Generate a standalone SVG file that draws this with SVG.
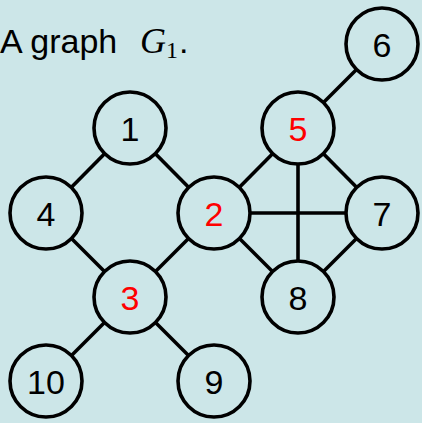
<svg xmlns="http://www.w3.org/2000/svg" width="422" height="423" viewBox="0 0 422 423">
<style>
.bg{fill:#cce6e8}
.n circle{fill:#cce6e8;stroke:#000;stroke-width:3.6}
.n text{font-family:"Liberation Sans","DejaVu Sans",sans-serif;font-size:34px;text-anchor:middle;fill:#000}
.n text.r{fill:#ff0000}
.e line{stroke:#000;stroke-width:3.6}
.t{font-family:"Liberation Sans","DejaVu Sans",sans-serif;font-size:34px;fill:#000}
.m{font-family:"Liberation Serif","DejaVu Serif",serif;font-style:italic;font-size:36px}
.s{font-family:"Liberation Serif","DejaVu Serif",serif;font-size:24px}
</style>
<rect class="bg" x="0" y="0" width="422" height="423"/>
<text class="t" x="0" y="53">A graph</text>
<text x="140" y="53" class="t"><tspan class="m">G</tspan></text>
<text class="s" x="166" y="58">1</text>
<text class="t" x="179" y="53">.</text>
<g class="e" id="edges">
<line x1="130" y1="128" x2="46" y2="213"/>
<line x1="130" y1="128" x2="214" y2="213"/>
<line x1="46" y1="213" x2="130" y2="297"/>
<line x1="214" y1="213" x2="130" y2="297"/>
<line x1="130" y1="297" x2="46" y2="381"/>
<line x1="130" y1="297" x2="214" y2="381"/>
<line x1="214" y1="213" x2="298" y2="128"/>
<line x1="214" y1="213" x2="382" y2="213"/>
<line x1="214" y1="213" x2="298" y2="297"/>
<line x1="298" y1="128" x2="382" y2="44"/>
<line x1="298" y1="128" x2="382" y2="213"/>
<line x1="298" y1="128" x2="298" y2="297"/>
<line x1="298" y1="297" x2="382" y2="213"/>
</g>
<g class="n" id="node1"><circle cx="130" cy="128" r="36"/><text x="130" y="141">1</text></g>
<g class="n" id="node2"><circle cx="214" cy="213" r="36"/><text class="r" x="214" y="226">2</text></g>
<g class="n" id="node3"><circle cx="130" cy="297" r="36"/><text class="r" x="130" y="310">3</text></g>
<g class="n" id="node4"><circle cx="46" cy="213" r="36"/><text x="46" y="226">4</text></g>
<g class="n" id="node5"><circle cx="298" cy="128" r="36"/><text class="r" x="298" y="141">5</text></g>
<g class="n" id="node6"><circle cx="382" cy="44" r="36"/><text x="382" y="57">6</text></g>
<g class="n" id="node7"><circle cx="382" cy="213" r="36"/><text x="382" y="226">7</text></g>
<g class="n" id="node8"><circle cx="298" cy="297" r="36"/><text x="298" y="310">8</text></g>
<g class="n" id="node9"><circle cx="214" cy="381" r="36"/><text x="214" y="394">9</text></g>
<g class="n" id="node10"><circle cx="46" cy="381" r="36"/><text x="46" y="394">10</text></g>
</svg>
